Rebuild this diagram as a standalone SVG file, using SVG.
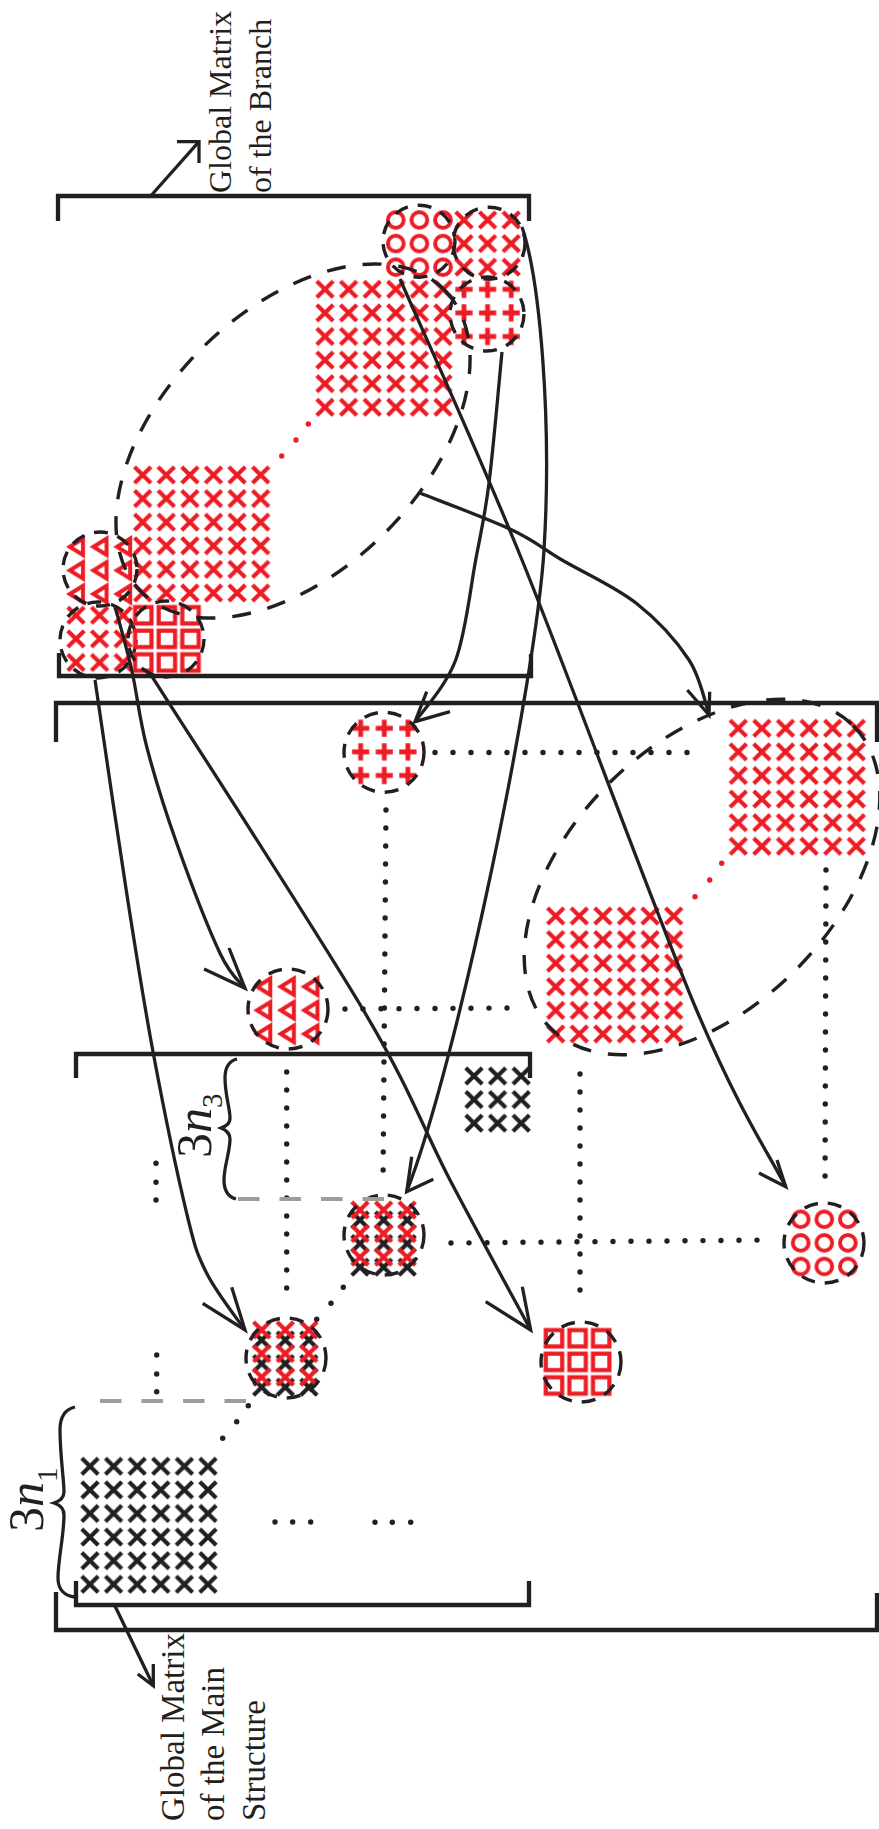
<svg xmlns="http://www.w3.org/2000/svg" width="879" height="1829" viewBox="0 0 879 1829">
<style>
.br{fill:none;stroke:#231f20;stroke-width:4.3}
.cn{fill:none;stroke:#231f20;stroke-width:3.3}
.ah{fill:none;stroke:#231f20;stroke-width:3.3;stroke-linejoin:miter}
.dc{fill:none;stroke:#231f20;stroke-width:3.4;stroke-dasharray:14 10}
.de{fill:none;stroke:#231f20;stroke-width:3.4;stroke-dasharray:19 17}
.dot{fill:none;stroke:#231f20;stroke-width:5.4;stroke-linecap:round;stroke-dasharray:0 18}
.kd{fill:#231f20}
.rd{fill:#ed1c24}
.gd{fill:none;stroke:#9d9d9d;stroke-width:3.8;stroke-dasharray:21.5 20}
.lbl{font-family:"Liberation Serif","Times New Roman",serif;font-size:32px;fill:#231f20}
.mth{font-family:"Liberation Serif","Times New Roman",serif;font-size:50px;fill:#231f20}
</style>
<defs>
<pattern id="pRX" width="23.6" height="23.6" patternUnits="userSpaceOnUse"><path d="M3.6,3.6L20,20M3.6,20L20,3.6" stroke="#ed1c24" stroke-width="4.2" fill="none"/></pattern>
<pattern id="pKX" width="23.6" height="23.6" patternUnits="userSpaceOnUse"><path d="M3.6,3.6L20,20M3.6,20L20,3.6" stroke="#231f20" stroke-width="4.2" fill="none"/></pattern>
<pattern id="pRO" width="23.6" height="23.6" patternUnits="userSpaceOnUse"><circle cx="11.8" cy="11.8" r="7.9" stroke="#ed1c24" stroke-width="3.9" fill="none"/></pattern>
<pattern id="pRS" width="23.6" height="23.6" patternUnits="userSpaceOnUse"><rect x="3.6" y="3.6" width="16.4" height="16.4" stroke="#ed1c24" stroke-width="4.2" fill="none"/></pattern>
<pattern id="pRP" width="23.6" height="23.6" patternUnits="userSpaceOnUse"><path d="M3.2,11.8H20.4M11.8,3.2V20.4" stroke="#ed1c24" stroke-width="4.8" fill="none"/></pattern>
<pattern id="pRT" width="23.6" height="23.6" patternUnits="userSpaceOnUse"><path d="M5.6,11.8L18.8,3.6V20Z" stroke="#ed1c24" stroke-width="4" fill="none"/></pattern>
</defs>

<g id="brackets">
<path class="br" d="M58,221V196H529V221"/>
<path class="br" d="M59,653V676H531V654"/>
<path class="br" d="M56,742V703H877V742"/>
<path class="br" d="M56,1592V1630H877V1593"/>
<path class="br" d="M76,1078V1054H530V1078"/>
<path class="br" d="M76,1581V1605H529V1581"/>
</g>

<g id="branch-A" transform="translate(313.2,277.5)"><rect width="141.6" height="141.6" fill="url(#pRX)"/></g>
<g id="branch-B" transform="translate(130.9,463.2)"><rect width="141.6" height="141.6" fill="url(#pRX)"/></g>
<g id="branch-O" transform="translate(384,208.2)"><rect width="70.8" height="70.8" fill="url(#pRO)"/><circle class="dc" cx="35" cy="33" r="36"/></g>
<g id="branch-X1" transform="translate(452.2,208.2)"><rect width="70.8" height="70.8" fill="url(#pRX)"/><circle class="dc" cx="36.8" cy="35" r="36"/></g>
<g id="branch-P" transform="translate(452.2,277.5)"><rect width="70.8" height="70.8" fill="url(#pRP)"/><circle class="dc" cx="34.8" cy="36.5" r="37"/></g>
<g id="branch-T" transform="translate(64.2,535)"><rect width="70.8" height="70.8" fill="url(#pRT)"/><circle class="dc" cx="35.8" cy="34" r="37"/></g>
<g id="branch-X2" transform="translate(64.2,603.5)"><rect width="70.8" height="70.8" fill="url(#pRX)"/><circle class="dc" cx="33.8" cy="36.5" r="38"/></g>
<g id="branch-S" transform="translate(131.5,603.5)"><rect width="70.8" height="70.8" fill="url(#pRS)"/><circle class="dc" cx="34.5" cy="35.5" r="38"/></g>
<g id="branch-ellipse"><ellipse class="de" cx="293" cy="441" rx="214" ry="130" transform="rotate(-45 293 441)"/>
<circle class="rd" cx="308.3" cy="424" r="2.7"/><circle class="rd" cx="296" cy="440" r="2.7"/><circle class="rd" cx="281.7" cy="456" r="2.7"/></g>

<g id="main-A" transform="translate(726.5,716.5)"><rect width="141.6" height="141.6" fill="url(#pRX)"/></g>
<g id="main-B" transform="translate(543.9,904.2)"><rect width="141.6" height="141.6" fill="url(#pRX)"/></g>
<g id="main-ellipse"><ellipse class="de" cx="702" cy="877" rx="214" ry="132" transform="rotate(-45 702 877)"/>
<circle class="rd" cx="721.7" cy="863.3" r="2.7"/><circle class="rd" cx="709.7" cy="880" r="2.7"/><circle class="rd" cx="695" cy="896.7" r="2.7"/></g>
<g id="main-P" transform="translate(348.9,716.5)"><rect width="70.8" height="70.8" fill="url(#pRP)"/><circle class="dc" cx="35.1" cy="35.8" r="40"/></g>
<g id="main-T" transform="translate(251.5,974.9)"><rect width="70.8" height="70.8" fill="url(#pRT)"/><circle class="dc" cx="36.5" cy="34.1" r="40"/></g>
<g id="main-MU"><g transform="translate(348.2,1208.2)"><rect width="70.8" height="70.8" fill="url(#pKX)"/></g><g transform="translate(348.2,1198.2)"><rect width="70.8" height="70.8" fill="url(#pRX)"/></g><circle class="dc" cx="384" cy="1235" r="40"/></g>
<g id="main-ML"><g transform="translate(249.9,1328.2)"><rect width="70.8" height="70.8" fill="url(#pKX)"/></g><g transform="translate(249.9,1318.2)"><rect width="70.8" height="70.8" fill="url(#pRX)"/></g><circle class="dc" cx="286" cy="1358" r="40"/></g>
<g id="main-O" transform="translate(788.9,1207.5)"><rect width="70.8" height="70.8" fill="url(#pRO)"/><circle class="dc" cx="35.1" cy="35.5" r="40"/></g>
<g id="main-S" transform="translate(542.2,1326.5)"><rect width="70.8" height="70.8" fill="url(#pRS)"/><circle class="dc" cx="38.8" cy="35.5" r="40"/></g>
<g id="main-K3" transform="translate(462.2,1064.2)"><rect width="70.8" height="70.8" fill="url(#pKX)"/></g>
<g id="main-K6" transform="translate(78.2,1454.5)"><rect width="141.6" height="141.6" fill="url(#pKX)"/></g>

<g id="dotted">
<line class="dot" x1="435" y1="752.5" x2="701" y2="752.5"/>
<line class="dot" x1="386" y1="810" x2="383" y2="1186"/>
<line class="dot" x1="345" y1="1009" x2="509" y2="1008"/>
<line class="dot" x1="286.7" y1="1072" x2="286.7" y2="1292"/>
<line class="dot" x1="826" y1="870" x2="825" y2="1192"/>
<line class="dot" x1="580" y1="1074" x2="580" y2="1294"/>
<line class="dot" x1="451" y1="1243" x2="769" y2="1240"/>
<circle class="kd" cx="222.7" cy="1438.3" r="2.7"/><circle class="kd" cx="236.7" cy="1421.7" r="2.7"/><circle class="kd" cx="248.3" cy="1405.7" r="2.7"/>
<circle class="kd" cx="316.7" cy="1319.3" r="2.7"/><circle class="kd" cx="331" cy="1303.3" r="2.7"/><circle class="kd" cx="343.3" cy="1287.3" r="2.7"/>
<circle class="kd" cx="275" cy="1522" r="2.7"/><circle class="kd" cx="292.7" cy="1522" r="2.7"/><circle class="kd" cx="310.7" cy="1522" r="2.7"/>
<circle class="kd" cx="375" cy="1522.3" r="2.7"/><circle class="kd" cx="392.3" cy="1522.3" r="2.7"/><circle class="kd" cx="410.7" cy="1522.3" r="2.7"/>
<circle class="kd" cx="156" cy="1163.3" r="2.7"/><circle class="kd" cx="156" cy="1182.3" r="2.7"/><circle class="kd" cx="156" cy="1200" r="2.7"/>
<circle class="kd" cx="156.7" cy="1355" r="2.7"/><circle class="kd" cx="156.7" cy="1374" r="2.7"/><circle class="kd" cx="156.7" cy="1391.7" r="2.7"/>
<line class="gd" x1="238" y1="1199" x2="384" y2="1199"/>
<line class="gd" x1="100" y1="1401" x2="247" y2="1401"/>
</g>

<g id="braces">
<path class="cn" d="M237,1059C229,1061 225,1067 225,1078C225,1095 230,1108 230,1118C230,1124 226,1126 221,1128C226,1130 230,1133 230,1139C230,1152 224,1166 224,1180C224,1191 229,1197 236,1199"/>
<path class="cn" d="M75,1407C66,1409 60,1416 60,1430C60,1455 64,1480 64,1492C64,1498 60,1501 54,1503C60,1505 64,1508 64,1515C64,1535 58,1560 58,1578C58,1590 65,1596 75,1597"/>
<text class="mth" transform="translate(211,1158) rotate(-90)">3<tspan font-style="italic">n</tspan><tspan font-size="29" dy="11">3</tspan></text>
<text class="mth" transform="translate(43,1532) rotate(-90)">3<tspan font-style="italic">n</tspan><tspan font-size="29" dy="14">1</tspan></text>
</g>

<g id="connectors">
<path class="cn" d="M400,279C420.3,325.8 472.7,438.5 522,560C571.3,681.5 651.7,903.5 695.7,1008C739.7,1112.5 770.7,1156.9 785.7,1186.7"/>
<path class="ah" d="M759,1173L785.7,1186.7L777,1160"/>
<path class="cn" d="M502,352C499.8,373.8 493.4,448.3 489,483C484.6,517.7 481.2,530.5 475.7,560C470.15,589.5 465.8,633 455.7,660C445.6,687 421.8,711.7 415,722"/>
<path class="ah" d="M426.7,691.7L415,721.7L450,711.7"/>
<path class="cn" d="M522,227C540,280 552,420 544,550C536,680 458,1060 406.7,1191.7"/>
<path class="ah" d="M411.7,1156.7L406.7,1191.7L433.3,1179.3"/>
<path class="cn" d="M420,493C435.3,499.2 488.3,518.8 512,530C535.7,541.2 541.3,547.8 562,560C582.7,572.2 614.8,586.3 636,603C657.2,619.7 676.8,641.3 689,660C701.2,678.7 705.7,705.8 709,715"/>
<path class="ah" d="M687.3,690L709,715L709.7,691.7"/>
<path class="cn" d="M115,606.7C117.8,617.2 126.4,646.7 131.7,670C137,693.3 139.2,717.8 146.7,746.7C154.2,775.6 164.5,808.9 176.7,843.3C188.9,877.7 208.6,929.1 220,953.3C231.4,977.5 240.8,982.5 245,988.3"/>
<path class="ah" d="M204,969L245,988.3L229,948"/>
<path class="cn" d="M95,680C100.3,715.6 117,831.1 126.7,893.3C136.4,955.5 143.3,1000 153.3,1053.3C163.3,1106.6 177.8,1176.6 186.7,1213.3C195.6,1250 197,1253.8 206.7,1273.3C216.4,1292.8 238.6,1320.6 245,1330"/>
<path class="ah" d="M202.7,1303.3L245,1330L231.7,1287.3"/>
<path class="cn" d="M150,673.3C185.6,729.4 313.3,925.6 363.3,1010C413.3,1094.4 422.1,1126.7 450,1180C477.9,1233.3 517.3,1305 530.7,1330"/>
<path class="ah" d="M485.7,1301.7L530.7,1330L522.3,1286.7"/>
<path class="cn" d="M150.7,196L199,141.7"/>
<path class="ah" d="M177,141.7H199V163"/>
<path class="cn" d="M115,1606L153.3,1685.7"/>
<path class="ah" d="M137.7,1674L153.3,1685.7V1664"/>
</g>

<g id="labels">
<text class="lbl" transform="translate(231,193) rotate(-90)">Global Matrix</text>
<text class="lbl" transform="translate(271,193) rotate(-90)">of the Branch</text>
<text class="lbl" transform="translate(184,1821) rotate(-90)" style="font-size:33px">Global Matrix</text>
<text class="lbl" transform="translate(224,1821) rotate(-90)" style="font-size:33px">of the Main</text>
<text class="lbl" transform="translate(265,1821) rotate(-90)" style="font-size:33px">Structure</text>
</g>
</svg>
